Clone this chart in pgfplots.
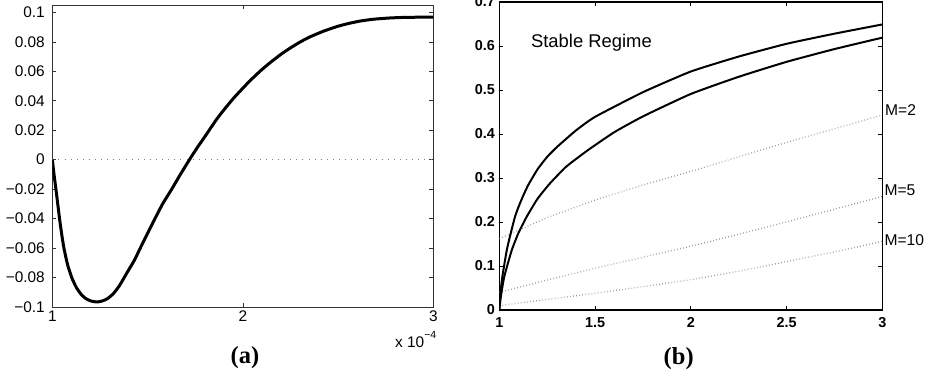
\documentclass[border=0pt]{standalone}
\usepackage{pgfplots}
\pgfplotsset{compat=1.18}
\usepackage{fontspec}
\setmainfont{Liberation Sans}
\newfontfamily\serifb{Liberation Serif}
\begin{document}
\begin{tikzpicture}[x=1pt,y=1pt]
\useasboundingbox (0,0) rectangle (935,381);
% ---------------- (a) ----------------
\begin{axis}[
  at={(52.3pt,74pt)}, anchor=south west, scale only axis,
  width=381pt, height=302pt,
  xmin=1, xmax=3, ymin=-0.1, ymax=0.105,
  xtick={1,2,3}, xticklabels={1,2,3},
  ytick={-0.1,-0.08,-0.06,-0.04,-0.02,0,0.02,0.04,0.06,0.08,0.1},
  yticklabels={−0.1,−0.08,−0.06,−0.04,−0.02,0,0.02,0.04,0.06,0.08,0.1},
  tick align=inside, major tick length=4pt,
  axis line style={line width=0.8pt, black!80},
  tick style={line width=0.6pt, black!80},
  ticklabel style={font=\fontsize{15.4}{16}\selectfont},
  yticklabel style={xshift=-4pt},
  xticklabel style={yshift=-0.5pt},
]
\addplot[gray, line width=1.2pt, dash pattern=on 0.8pt off 5.3pt] coordinates {(1,0) (3,0)};
\addplot[black, line width=3pt, smooth, tension=0.3] coordinates {
(1.000,0) (1.005,-0.0055) (1.010,-0.011) (1.020,-0.021) (1.030,-0.0315) (1.040,-0.0420)
(1.050,-0.0512) (1.061,-0.060) (1.080,-0.0712) (1.102,-0.0800) (1.125,-0.0865)
(1.150,-0.0912) (1.175,-0.0942) (1.200,-0.0958) (1.220,-0.0964) (1.241,-0.0965)
(1.265,-0.0958) (1.290,-0.0943) (1.320,-0.0910) (1.350,-0.0860) (1.373,-0.0810)
(1.400,-0.0750) (1.430,-0.0685) (1.460,-0.0605) (1.500,-0.0500) (1.539,-0.0400)
(1.580,-0.0298) (1.627,-0.0200) (1.670,-0.0105) (1.720,0.0000) (1.760,0.0080)
(1.800,0.0155) (1.863,0.0275) (1.900,0.0337) (1.950,0.0415) (2.000,0.0485)
(2.038,0.0536) (2.090,0.0600) (2.140,0.0655) (2.200,0.0715) (2.248,0.0757)
(2.300,0.0798) (2.350,0.0832) (2.423,0.0872) (2.500,0.0906) (2.560,0.0926)
(2.620,0.0942) (2.690,0.0954) (2.773,0.0962) (2.850,0.0966) (2.920,0.0967) (3.000,0.0967)};
\end{axis}
\node[anchor=base west, inner sep=0pt, font=\fontsize{15.4}{16}\selectfont] at (395,33.5)
  {x 10\raisebox{9.5pt}{\fontsize{10.5}{11}\selectfont −4}};
\node[font=\serifb\bfseries\fontsize{24.5}{26}\selectfont] at (245,23) {(a)};
% ---------------- (b) ----------------
\begin{axis}[
  at={(499.3pt,71pt)}, anchor=south west, scale only axis,
  width=383pt, height=308pt,
  xmin=1, xmax=3, ymin=0, ymax=0.7,
  xtick={1,1.5,2,2.5,3}, xticklabels={1,1.5,2,2.5,3},
  ytick={0,0.1,0.2,0.3,0.4,0.5,0.6,0.7},
  yticklabels={0,0.1,0.2,0.3,0.4,0.5,0.6,0.7},
  tick align=inside, major tick length=4pt,
  axis line style={line width=1.2pt, black},
  tick style={line width=0.7pt, black},
  ticklabel style={font=\bfseries\fontsize{14.4}{15}\selectfont},
  yticklabel style={xshift=-1pt},
  xticklabel style={yshift=-4pt},
]
\addplot[gray!85, line width=1.3pt, dash pattern=on 0.7pt off 2.4pt] coordinates {
(1,0.162) (1.25,0.210) (1.5,0.250) (1.75,0.284) (2,0.315) (2.25,0.348) (2.5,0.381) (2.75,0.412) (3,0.443)};
\addplot[gray!85, line width=1.3pt, dash pattern=on 0.7pt off 2.4pt] coordinates {
(1,0.040) (1.25,0.068) (1.5,0.095) (1.75,0.120) (2,0.145) (2.25,0.172) (2.5,0.200) (2.75,0.229) (3,0.258)};
\addplot[gray!85, line width=1.3pt, dash pattern=on 0.7pt off 2.4pt] coordinates {
(1,0.010) (1.25,0.024) (1.5,0.038) (1.75,0.053) (2,0.069) (2.25,0.088) (2.5,0.110) (2.75,0.132) (3,0.156)};
\addplot[black, line width=2pt, smooth, tension=0.3] coordinates {
(1.000,0) (1.005,0.035) (1.016,0.076) (1.039,0.136) (1.060,0.175) (1.082,0.212)
(1.100,0.234) (1.125,0.260) (1.151,0.284) (1.200,0.320) (1.250,0.348) (1.300,0.370)
(1.400,0.408) (1.500,0.439) (1.750,0.495) (2.000,0.542) (2.250,0.576) (2.500,0.605)
(2.750,0.628) (3.000,0.649)};
\addplot[black, line width=2pt, smooth, tension=0.3] coordinates {
(1.000,0) (1.008,0.030) (1.026,0.076) (1.065,0.136) (1.100,0.175) (1.143,0.212)
(1.200,0.253) (1.265,0.288) (1.350,0.326) (1.465,0.364) (1.600,0.404) (1.750,0.440)
(2.000,0.491) (2.250,0.530) (2.500,0.564) (2.750,0.593) (3.000,0.619)};
\node[anchor=west, font=\fontsize{18.4}{19}\selectfont, inner sep=0pt] at (axis cs:1.165,0.608) {Stable Regime};
\end{axis}
\node[anchor=west, inner sep=0pt, font=\fontsize{15.6}{16}\selectfont] at (885,271) {M=2};
\node[anchor=west, inner sep=0pt, font=\fontsize{15.6}{16}\selectfont] at (884.3,190.3) {M=5};
\node[anchor=west, inner sep=0pt, font=\fontsize{15.6}{16}\selectfont] at (884.3,141) {M=10};
\node[font=\serifb\bfseries\fontsize{24.5}{26}\selectfont] at (678.7,22) {(b)};
\end{tikzpicture}
\end{document}
